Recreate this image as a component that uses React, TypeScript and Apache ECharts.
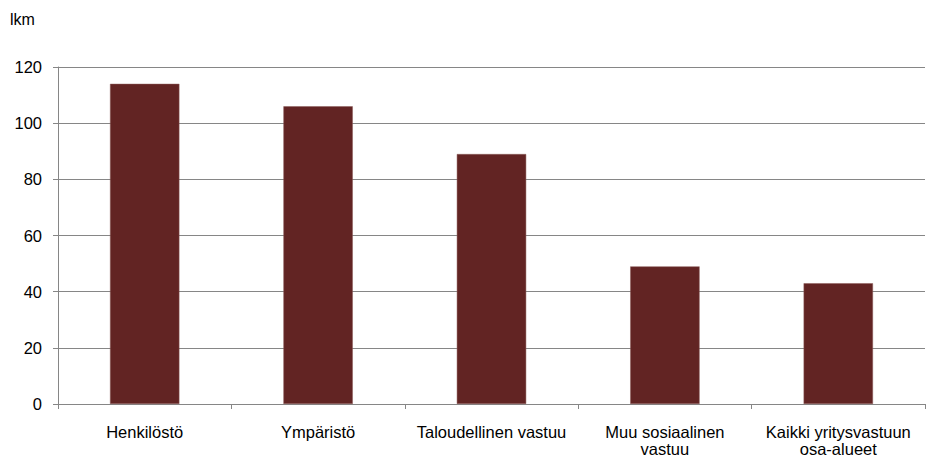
import React, { useEffect, useRef } from "react";
import * as echarts from "echarts";

const categories = [
  "Henkilöstö",
  "Ympäristö",
  "Taloudellinen vastuu",
  "Muu sosiaalinen\nvastuu",
  "Kaikki yritysvastuun\nosa-alueet",
];
const values = [114, 106, 89, 49, 43];
const yTicks = { min: 0, max: 120, interval: 20 };

const FONT = "Liberation Sans, Arial, sans-serif";

export default function App() {
  const ref = useRef<HTMLDivElement>(null);
  useEffect(() => {
    const chart = echarts.init(ref.current!, undefined, { renderer: "svg" });
    chart.setOption({
      animation: false,
      textStyle: { fontFamily: FONT },
      graphic: [
        {
          type: "text",
          left: 10,
          top: 11,
          style: { text: "lkm", fontSize: 16, fill: "#000", fontFamily: FONT },
        },
      ],
      grid: { left: 58, right: 5, top: 67, bottom: 55 },
      xAxis: {
        type: "category",
        data: categories,
        axisLine: { lineStyle: { color: "#868686", width: 1 } },
        axisTick: { show: true, alignWithLabel: false, length: 5, lineStyle: { color: "#868686" } },
        axisLabel: { color: "#000", fontSize: 16.5, margin: 19, lineHeight: 17, interval: 0 },
      },
      yAxis: {
        type: "value",
        min: yTicks.min,
        max: yTicks.max,
        interval: yTicks.interval,
        axisLine: { show: true, lineStyle: { color: "#868686", width: 1 } },
        axisTick: { show: true, length: 5, lineStyle: { color: "#868686" } },
        axisLabel: { color: "#000", fontSize: 16.5, margin: 16 },
        splitLine: { lineStyle: { color: "#868686", width: 1 } },
      },
      series: [
        {
          type: "bar",
          data: values,
          barWidth: "40%",
          itemStyle: { color: "#622423", borderColor: "#8a5a59", borderWidth: 0.5 },
        },
      ],
    });
    return () => chart.dispose();
  }, []);
  return (
    <div
      ref={ref}
      style={{ position: "absolute", left: 0, top: 0, width: 930, height: 459 }}
    />
  );
}
